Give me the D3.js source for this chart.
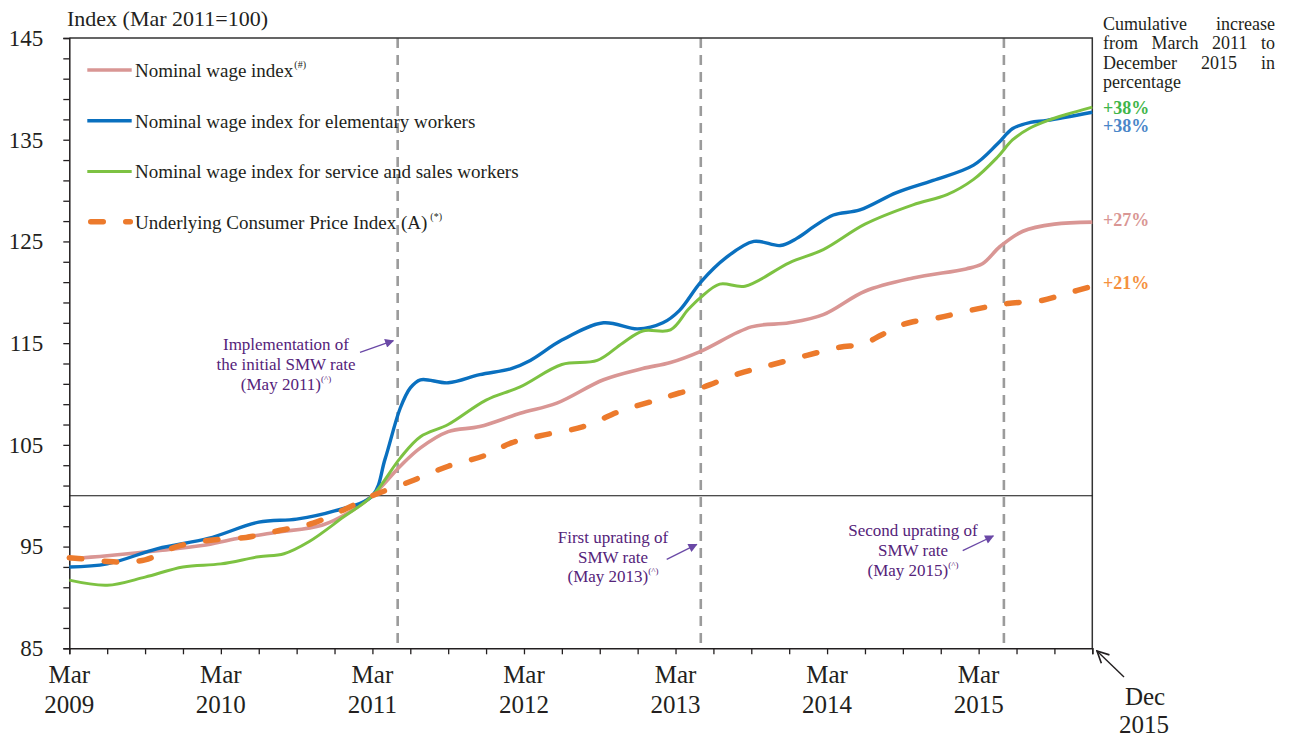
<!DOCTYPE html>
<html><head><meta charset="utf-8">
<script src="https://cdn.jsdelivr.net/npm/d3@7"></script>
<style>
body{margin:0;background:#fff}
svg{display:block}
text{font-family:"Liberation Serif","Times New Roman",serif;fill:#231f20}
</style>
</head><body>
<svg id="chart" width="1290" height="738"></svg>
<script>
// ---------- DATA (x = months since Mar 2009, Dec 2015 = 81) ----------
const pinkMonths  = [0,3,7,10.5,13.3,16.4,20,22.2,24,26.2,27.8,30,32.5,35.7,38.6,42.3,45.4,47.6,50,54,57,59.7,63,66.8,71,72.3,73.7,75.5,78,81];
const pinkValues  = [93.8,94.1,94.6,95.1,95.8,96.4,97.1,98.4,100,102.9,104.7,106.3,106.8,108.1,109.1,111.4,112.5,113.1,114.2,116.6,117.0,117.8,120.1,121.4,122.3,122.8,124.5,126.0,126.7,126.9];

const blueMonths  = [0,3,7,11,15,18,21,24,25,26.2,27,27.8,30,32.5,35,36.5,39,42.3,45,47,48.3,50,52,54.2,56.3,57.6,59,60.5,62.6,65.5,68.4,71.6,73.5,74.7,76.1,77.4,81];
const blueValues  = [93.0,93.3,94.8,95.8,97.4,97.7,98.5,100,103.6,108.6,110.6,111.4,111.1,111.9,112.5,113.3,115.3,117.0,116.4,117.0,118.2,121.0,123.4,125.0,124.6,125.3,126.5,127.6,128.1,129.8,131.0,132.5,134.6,136.1,136.7,136.9,137.7];

const greenMonths = [0,3,6,9,12,15,17,19,21.7,24,26.2,27.8,30,33,35.7,39,41.8,43.8,45.4,47.6,49,50,51.5,53.5,57,59.7,63,66.8,69.5,71.6,73.5,74.7,76,77.5,79,81];
const greenValues = [91.7,91.2,92.0,93.0,93.3,94.0,94.3,95.5,97.9,100,103.7,105.8,107.0,109.4,110.7,112.9,113.3,115.0,116.2,116.3,118.3,119.5,120.8,120.6,122.9,124.2,126.7,128.6,129.6,131.1,133.3,135.0,136.1,136.9,137.5,138.2];

const cpiMonths   = [0,1,3.5,6,8.5,11,14,16.7,19.3,22.2,24,27,30,33,35,37.3,40.7,43.8,46.5,48.3,50,53,55.7,58.4,61,62.8,64.3,65.5,66.8,68.8,71.6,74.3,77,79,81];
const cpiValues   = [93.9,93.8,93.5,93.7,95.0,95.6,95.9,96.6,97.3,98.9,100,101.4,102.9,104.0,105.2,105.9,106.8,108.4,109.4,110.1,110.6,112.0,112.9,113.8,114.6,114.9,115.8,116.6,117.1,117.5,118.3,118.9,119.2,119.9,120.6];

const seriesNames = ["Nominal wage index","Nominal wage index for elementary workers","Nominal wage index for service and sales workers","Underlying Consumer Price Index (A)"];
const seriesSup   = ["(#)","","","(*)"];
const yTicks = d3.range(85,146,2);
const yLabels = [85,95,105,115,125,135,145];
const xTicks = d3.range(0,82,3);
const xLabelMonths = [0,12,24,36,48,60,72];
const xLabelYears  = ["2009","2010","2011","2012","2013","2014","2015"];
const eventMonths = [26,50,74];
const eventTexts = [
  ["Implementation of","the initial SMW rate","(May 2011)"],
  ["First uprating of","SMW rate","(May 2013)"],
  ["Second uprating of","SMW rate","(May 2015)"]
];
const pctLabels = ["+38%","+38%","+27%","+21%"];
const noteLines = [["Cumulative","increase"],["from","March","2011","to"],["December","2015","in"],["percentage"]];

// ---------- CHART ----------
const svg = d3.select("#chart");
const x = d3.scaleLinear().domain([0,81]).range([69.3,1092.3]);
const y = d3.scaleLinear().domain([85,145]).range([648.3,38]);
const col = {pink:"#d99694", blue:"#0a70bf", green:"#7dc242", orange:"#ec7a2c"};

const defs = svg.append("defs");
defs.append("marker").attr("id","arrP").attr("viewBox","0 0 10 10").attr("refX",9).attr("refY",5)
  .attr("markerWidth",11).attr("markerHeight",9).attr("markerUnits","userSpaceOnUse").attr("orient","auto")
  .append("path").attr("d","M0,0L10,5L0,10z").attr("fill","#6a48a6");
defs.append("marker").attr("id","arrK").attr("viewBox","0 0 12 12").attr("refX",11).attr("refY",6)
  .attr("markerWidth",14).attr("markerHeight",14).attr("markerUnits","userSpaceOnUse").attr("orient","auto")
  .append("path").attr("d","M1,1L11,6L1,11").attr("fill","none").attr("stroke","#231f20").attr("stroke-width",1.4);

// event vertical dashed lines
svg.append("g").selectAll("line").data(eventMonths).join("line")
  .attr("x1",d=>x(d)).attr("x2",d=>x(d)).attr("y1",y(145)).attr("y2",y(85))
  .attr("stroke","#9b9b9b").attr("stroke-width",2.6).attr("stroke-dasharray","10,7");

// frame (top & right)
svg.append("path").attr("d",`M${x(0)},${y(145)}H${x(81)}V${y(85)}`).attr("fill","none").attr("stroke","#333").attr("stroke-width",1.5);
// 100 line
svg.append("line").attr("x1",x(0)).attr("x2",x(81)).attr("y1",y(100)).attr("y2",y(100)).attr("stroke","#111").attr("stroke-width",1.2);

// axes
const yAxis = svg.append("g").attr("transform",`translate(${x(0)},0)`)
  .call(d3.axisLeft(y).tickValues(yTicks).tickSize(6).tickPadding(20).tickFormat(v=>yLabels.includes(v)?v:""));
const xAxis = svg.append("g").attr("transform",`translate(0,${y(85)})`)
  .call(d3.axisBottom(x).tickValues(xTicks).tickSize(6).tickFormat(""));
[yAxis,xAxis].forEach(g=>{
  g.select(".domain").attr("stroke","#231f20").attr("stroke-width",1.5);
  g.selectAll(".tick line").attr("stroke","#231f20").attr("stroke-width",1.3);
});
yAxis.selectAll(".tick text").attr("font-size",23).attr("font-family","Liberation Serif").attr("fill","#231f20");

const xl = svg.append("g").selectAll("text").data(xLabelMonths).join("text")
  .attr("text-anchor","middle").attr("font-size",25);
xl.append("tspan").attr("x",d=>x(d)).attr("y",683).text("Mar");
xl.append("tspan").attr("x",d=>x(d)).attr("y",713).text((d,i)=>xLabelYears[i]);

// Dec 2015 label with arrow
svg.append("line").attr("x1",1124).attr("y1",677).attr("x2",1097).attr("y2",651)
  .attr("stroke","#231f20").attr("stroke-width",1.4).attr("marker-end","url(#arrK)");
svg.append("text").attr("x",1145).attr("y",705).attr("text-anchor","middle").attr("font-size",25).text("Dec");
svg.append("text").attr("x",1144).attr("y",733).attr("text-anchor","middle").attr("font-size",25).text("2015");

// y title
svg.append("text").attr("x",67).attr("y",26).attr("font-size",22).text("Index (Mar 2011=100)");

// series lines
const series = [
  {m:pinkMonths,v:pinkValues,c:col.pink,w:3.6,dash:null},
  {m:blueMonths,v:blueValues,c:col.blue,w:3.4,dash:null},
  {m:greenMonths,v:greenValues,c:col.green,w:3.0,dash:null},
  {m:cpiMonths,v:cpiValues,c:col.orange,w:5.5,dash:"12.5,22.5"}
];
const line = d3.line().x(d=>x(d[0])).y(d=>y(d[1])).curve(d3.curveCatmullRom.alpha(0.5));
series.forEach(s=>{
  const pts = s.m.map((m,i)=>[m,s.v[i]]);
  const p = svg.append("path").datum(pts).attr("d",line).attr("fill","none")
    .attr("stroke",s.c).attr("stroke-width",s.w);
  if(s.dash) p.attr("stroke-dasharray",s.dash).attr("stroke-linecap","round");
});

// legend
const legY = [70,120.7,171.5,221.7];
series.forEach((s,i)=>{
  if(s.dash){
    svg.append("line").attr("x1",90.75).attr("x2",130.3).attr("y1",legY[i]).attr("y2",legY[i])
      .attr("stroke",s.c).attr("stroke-width",s.w).attr("stroke-dasharray",s.dash).attr("stroke-linecap","round");
  } else {
    svg.append("line").attr("x1",87.3).attr("x2",131.7).attr("y1",legY[i]).attr("y2",legY[i])
      .attr("stroke",s.c).attr("stroke-width",s.w);
  }
  const t = svg.append("text").attr("x",135).attr("y",legY[i]+6.8).attr("font-size",19).text(seriesNames[i]);
  if(seriesSup[i]) t.append("tspan").attr("font-size",10).attr("dy",-9).attr("dx",seriesSup[i]==="(*)"?3:1).text(seriesSup[i]);
});

// annotations
const purple = "#55237a";
const annCx = [286,613,913];
const annY0 = [350,542.7,536];
eventTexts.forEach((lines,k)=>{
  lines.forEach((ln,j)=>{
    const t = svg.append("text").attr("x",annCx[k]).attr("y",annY0[k]+j*19.8).attr("text-anchor","middle")
      .attr("font-size",17).style("fill",purple).text(ln);
    if(j===2) t.append("tspan").attr("font-size",9).attr("dy",-8).text("(^)");
  });
});
const arrows = [[360,352.3,393.3,340.7],[666.7,559.3,696.7,544.3],[962.7,550.7,993.3,536]];
svg.append("g").selectAll("line").data(arrows).join("line")
  .attr("x1",d=>d[0]).attr("y1",d=>d[1]).attr("x2",d=>d[2]).attr("y2",d=>d[3])
  .attr("stroke","#6a48a6").attr("stroke-width",1.3).attr("marker-end","url(#arrP)");

// right note (justified)
const noteX0 = 1103, noteX1 = 1275, noteY0 = 30, noteDy = 19.3;
noteLines.forEach((words,li)=>{
  const g = svg.append("g");
  const ts = words.map(w=>g.append("text").attr("y",noteY0+li*noteDy).attr("font-size",18).text(w));
  const widths = ts.map(t=>t.node().getComputedTextLength());
  const total = d3.sum(widths);
  const gap = (li<noteLines.length-1 && words.length>1) ? (noteX1-noteX0-total)/(words.length-1) : 4.5;
  let cx = noteX0;
  ts.forEach((t,i)=>{ t.attr("x",cx); cx += widths[i]+gap; });
});

// percent labels
const pctColors = ["#3fb54a","#4a86c8","#d99694","#f5913e"];
const pctY = [114,132,226,288.5];
pctLabels.forEach((p,i)=>{
  svg.append("text").attr("x",1103).attr("y",pctY[i]).attr("font-size",18).attr("font-weight","bold")
    .style("fill",pctColors[i]).text(p);
});
</script>
</body></html>
